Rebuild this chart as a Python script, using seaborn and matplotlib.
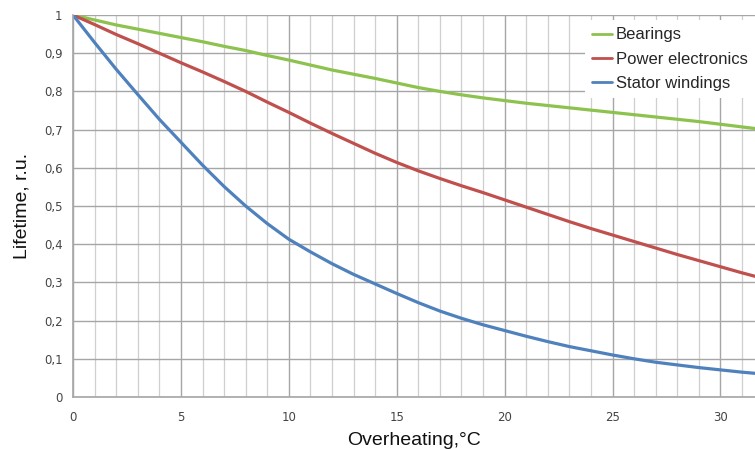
import numpy as np
import matplotlib.pyplot as plt
import pandas as pd
import seaborn as sns
from matplotlib.ticker import MultipleLocator, FuncFormatter

# values, one per degree of overheating
overheat = list(range(0, 33))
bearings = [1.0, 0.987, 0.974, 0.963, 0.952, 0.941, 0.93, 0.918, 0.907, 0.894,
            0.882, 0.869, 0.856, 0.845, 0.834, 0.822, 0.81, 0.8, 0.791, 0.783,
            0.776, 0.769, 0.763, 0.757, 0.751, 0.745, 0.739, 0.733, 0.727, 0.721,
            0.714, 0.707, 0.70]
power_el = [1.0, 0.975, 0.949, 0.925, 0.9, 0.875, 0.851, 0.826, 0.8, 0.772,
            0.745, 0.717, 0.69, 0.664, 0.638, 0.614, 0.592, 0.572, 0.553, 0.535,
            0.516, 0.497, 0.478, 0.459, 0.441, 0.424, 0.407, 0.39, 0.373, 0.357,
            0.341, 0.325, 0.31]
stator = [1.0, 0.928, 0.858, 0.792, 0.727, 0.667, 0.607, 0.551, 0.5, 0.454,
          0.413, 0.38, 0.349, 0.321, 0.296, 0.271, 0.247, 0.225, 0.206, 0.189,
          0.174, 0.159, 0.145, 0.132, 0.121, 0.11, 0.1, 0.091, 0.084, 0.077,
          0.071, 0.065, 0.06]

series = ["Bearings", "Power electronics", "Stator windings"]
colors = ["#8DC24F", "#C0504D", "#4F81BD"]

df = pd.concat([
    pd.DataFrame({"Overheating": overheat, "Lifetime": vals, "Series": name})
    for name, vals in zip(series, [bearings, power_el, stator])
])

sns.set_style("white")
plt.rcParams['font.family'] = ['Liberation Sans', 'DejaVu Sans']

fig = plt.figure(figsize=(7.55, 4.49), dpi=100)
ax = fig.add_axes([0.0967, 0.1158, 0.9033, 0.8508])

sns.lineplot(data=df, x="Overheating", y="Lifetime", hue="Series",
             palette=colors, linewidth=2.3, ax=ax)

ax.set_xlim(0, 31.6)
ax.set_ylim(0, 1)
ax.xaxis.set_major_locator(MultipleLocator(5))
ax.xaxis.set_minor_locator(MultipleLocator(1))
ax.yaxis.set_major_locator(MultipleLocator(0.1))
ax.yaxis.set_major_formatter(FuncFormatter(
    lambda v, p: "0" if abs(v) < 1e-9 else ("1" if abs(v - 1) < 1e-9 else f"{v:.1f}".replace(".", ","))))

ax.grid(which="major", axis="both", color="#A6A6A6", linewidth=1.0)
ax.grid(which="minor", axis="x", color="#CFCFCF", linewidth=0.9)
ax.set_axisbelow(True)

for s in ["top", "right"]:
    ax.spines[s].set_visible(False)
for s in ["left", "bottom"]:
    ax.spines[s].set_color("#A6A6A6")
    ax.spines[s].set_linewidth(1.2)

ax.tick_params(which="both", direction="out", colors="#A6A6A6", labelcolor="#444444",
               labelsize=8.5, length=4)
ax.tick_params(axis="x", pad=6)
for lab in ax.get_xticklabels() + ax.get_yticklabels():
    lab.set_family("DejaVu Sans")

ax.set_xlabel("Overheating,°C", fontsize=14, color="#111111", labelpad=6)
ax.set_ylabel("Lifetime, r.u.", fontsize=14, color="#111111", labelpad=10)

leg = ax.legend(title=None, loc="upper right", bbox_to_anchor=(1.0, 0.987),
                frameon=True, fontsize=12, handlelength=1.2, handletextpad=0.2,
                labelspacing=0.55, borderpad=0.45, borderaxespad=0.0, fancybox=False)
leg.get_frame().set_facecolor("white")
leg.get_frame().set_edgecolor("none")
leg.get_frame().set_alpha(1)
for line in leg.get_lines():
    line.set_linewidth(2)

fig.savefig("out.png", dpi=100)
